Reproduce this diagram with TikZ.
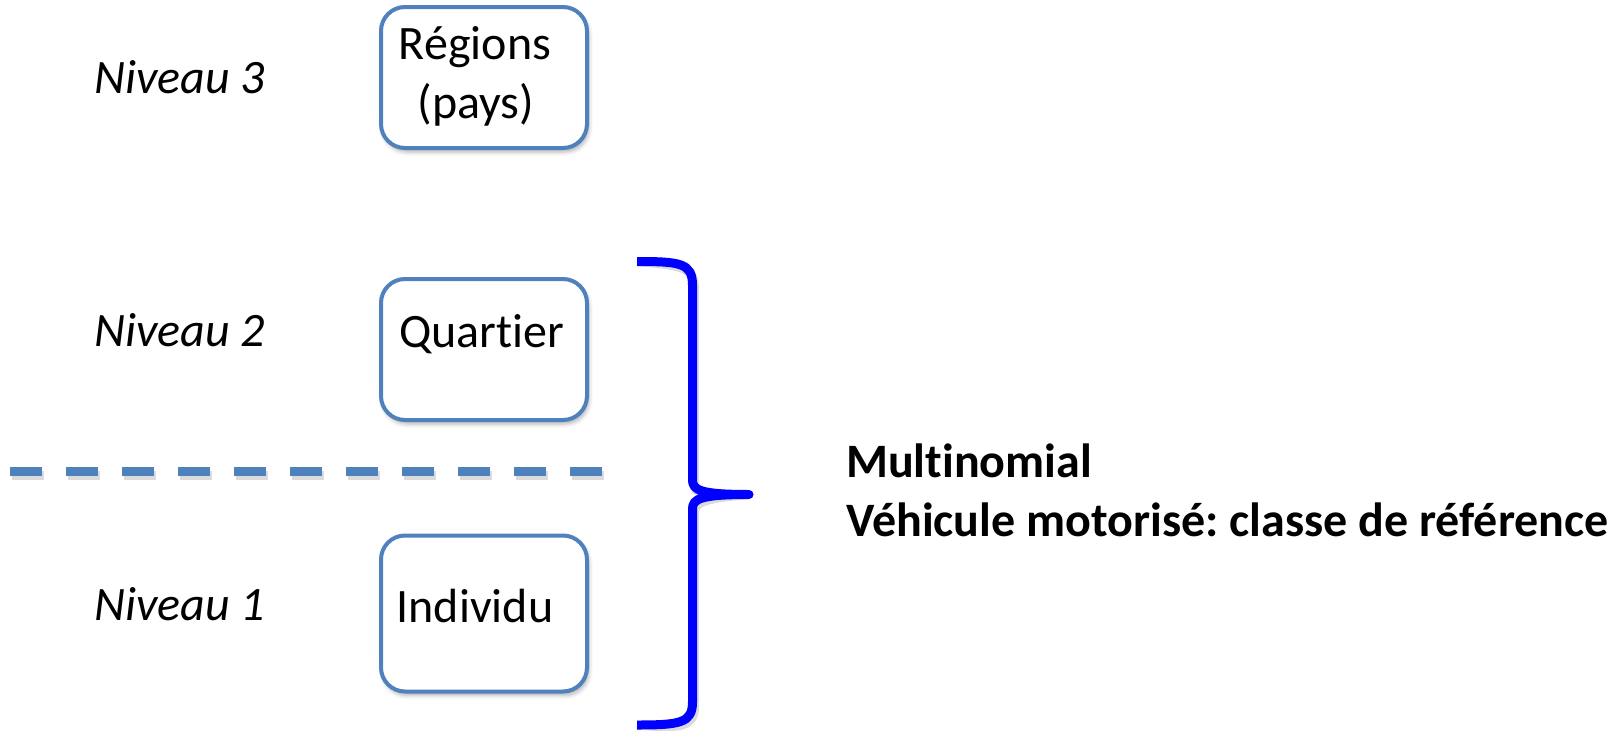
\documentclass[tikz,border=0pt]{standalone}
\usepackage{fontspec}
\setmainfont{Carlito}[Ligatures=NoCommon]
\usetikzlibrary{shadows.blur}
\definecolor{boxblue}{RGB}{79,129,189}
\definecolor{braceblue}{RGB}{0,0,255}
\frenchspacing

\begin{document}
\begin{tikzpicture}[x=1pt,y=-1pt,
  levelbox/.style={draw=boxblue, line width=4pt, rounded corners=24pt,
    fill=white, inner sep=0pt, minimum width=206pt,
    blur shadow={shadow xshift=2pt, shadow yshift=-4pt,
      shadow blur radius=4pt, shadow opacity=30}},
  bigfont/.style={inner sep=0pt, font=\fontsize{48}{59}\selectfont},
  boxtext/.style={bigfont, anchor=base},
  leveltext/.style={bigfont, anchor=base west, font=\fontsize{48}{59}\selectfont\itshape},
  notetext/.style={bigfont, anchor=base west, font=\fontsize{48}{59}\selectfont\bfseries},
  softshadow/.style={draw=black, opacity=0.14},
  braceline/.style={draw=braceblue},
]
\useasboundingbox (0,0) rectangle (1620,731);

% level boxes
\node[levelbox, minimum height=141pt] (r3) at (484,77.5) {};
\node[levelbox, minimum height=141pt] (r2) at (484,349.5) {};
\node[levelbox, minimum height=156pt] (r1) at (484,613.5) {};

% box labels
\node[boxtext] (t3a) at (475,59) {Régions};
\node[boxtext] (t3b) at (476,118) {(pays)};
\node[boxtext] (t2) at (481.5,347) {Quartier};
\node[boxtext] (t1) at (475,622) {Individu};

% level names
\node[leveltext] (n3) at (94,93) {Niveau 3};
\node[leveltext] (n2) at (94,346) {Niveau 2};
\node[leveltext] (n1) at (94,620) {Niveau 1};

% dashed separator between levels 1 and 2
\coordinate (dashL) at (10,471);
\coordinate (dashR) at (602,471);
\draw[softshadow, line width=9pt, dash pattern=on 32pt off 24pt]
  ([shift={(2,4)}]dashL) -- ([shift={(2,4)}]dashR);
\draw[boxblue, line width=9pt, dash pattern=on 32pt off 24pt] (dashL) -- (dashR);

% brace grouping levels 1 and 2
\coordinate (bTop) at (637,261.5);
\coordinate (bTip) at (749,494.5);
\coordinate (bBot) at (637,725);
\foreach \look/\dx/\dy in {softshadow/2/4, braceline/0/0}{
  \draw[\look, line width=9pt, line join=round, line cap=butt,
        shift={(\dx,\dy)}]
    (bTop) .. controls (680,261.5) and (692.5,263) .. (692.5,285)
    -- (692.5,480)
    .. controls (692.5,490) and (700,494.5) .. (bTip)
    .. controls (700,494.5) and (692.5,499) .. (692.5,509)
    -- (692.5,702)
    .. controls (692.5,723) and (680,725) .. (bBot);
}

% note on the right
\node[notetext] (m1) at (846,477) {Multinomial};
\node[notetext] (m2) at (846,536) {Véhicule motorisé: classe de référence};
\end{tikzpicture}
\end{document}
